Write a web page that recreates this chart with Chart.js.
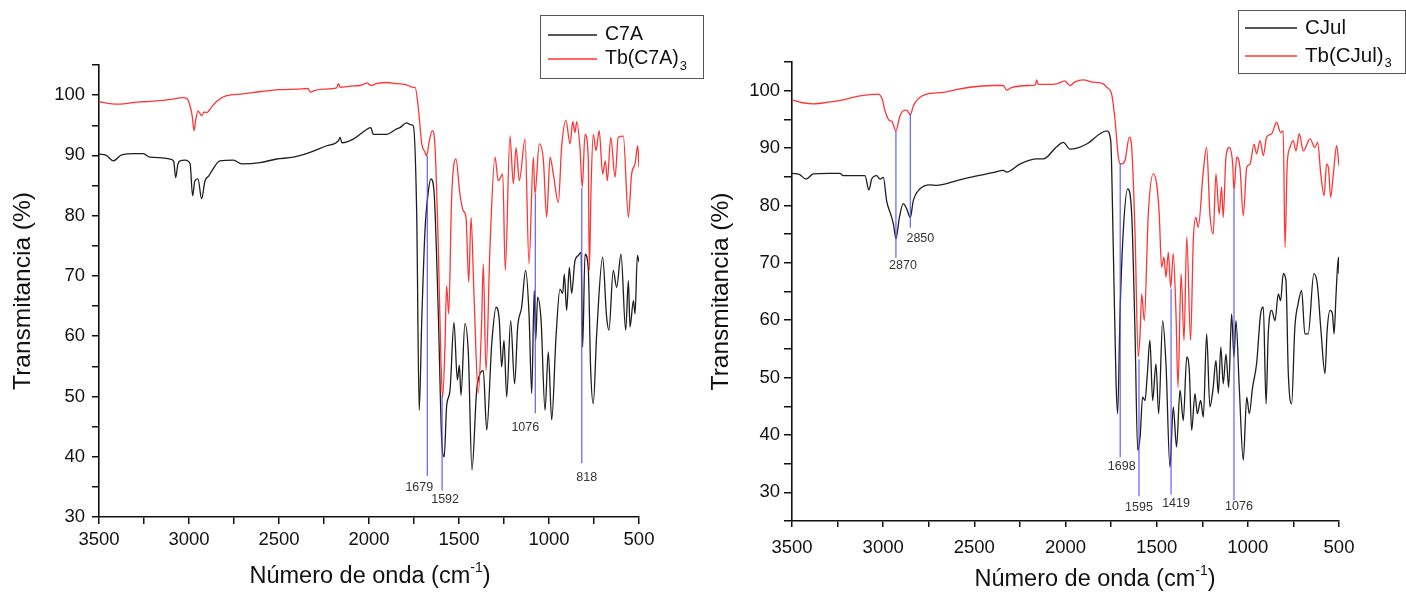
<!DOCTYPE html>
<html><head><meta charset="utf-8">
<script src="https://cdn.jsdelivr.net/npm/chart.js@4.4.1/dist/chart.umd.min.js"></script>
<style>
html,body{margin:0;padding:0;background:#fff;width:1406px;height:595px;overflow:hidden}
canvas{position:absolute;top:0}
</style></head><body>
<canvas id="c1" width="710" height="595" style="left:0"></canvas>
<canvas id="c2" width="706" height="595" style="left:700px"></canvas>
<script>
// ---------- DATA: left panel ----------
const wnTbC7A = [3500,3440,3383,3300,3250,3200,3100,3033,3010,2994,2982,2972,2962,2950,2940,2930,2915,2902,2875,2846,2791,2700,2600,2500,2400,2340,2325,2300,2250,2180,2170,2160,2100,2050,2010,1990,1960,1900,1850,1800,1755,1744,1726,1707,1690,1680,1665,1648,1633,1615,1600,1591,1578,1569,1557,1541,1517,1495,1476,1461,1446,1433,1417,1393,1374,1365,1350,1328,1300,1282,1257,1243,1217,1198,1183,1165,1133,1111,1087,1078,1054,1031,1013,994,976,948,930,906,883,868,856,846,828,815,800,782,776,766,754,739,721,702,687,676,657,633,615,587,559,541,522,507,500];
const tTbC7A  = [98.9,98.6,98.5,98.8,98.9,99.0,99.3,99.6,99.4,98.2,96.5,94.1,96.0,97.4,97.0,96.6,97.2,97.1,98.0,99.0,99.9,100.2,100.6,100.9,101.0,101.1,100.5,100.8,101.0,101.2,101.9,101.3,101.5,101.6,102.0,101.6,101.9,102.1,101.9,101.8,101.3,101.3,97.9,91.9,90.6,89.9,92.4,94.1,91.3,74.7,55.5,49.9,58.2,68.4,63.7,83.0,89.4,83.6,80.8,79.7,69.0,79.7,67.1,50.5,62.6,72.0,54.3,74.7,89.7,85.8,86.9,70.9,93.2,85.3,91.3,85.8,92.7,72.0,89.7,83.6,91.9,89.1,79.7,89.7,86.9,82.2,91.3,95.8,91.9,95.6,93.8,95.6,91.3,84.7,93.5,89.7,70.9,85.0,93.5,90.8,94.1,86.9,89.1,85.8,93.0,86.4,93.0,93.2,79.7,86.9,88.6,91.6,88.0];
const wnC7A = [3500,3460,3420,3374,3300,3254,3217,3150,3106,3085,3074,3062,3050,3022,2994,2980,2967,2950,2930,2911,2890,2874,2828,2754,2707,2606,2513,2420,2328,2235,2170,2161,2150,2087,2013,1990,1976,1940,1902,1846,1828,1791,1770,1754,1735,1721,1707,1689,1670,1656,1639,1615,1596,1582,1569,1550,1528,1509,1498,1489,1467,1448,1428,1402,1383,1365,1346,1318,1294,1276,1263,1250,1235,1213,1191,1174,1152,1130,1111,1096,1082,1074,1063,1044,1022,1004,985,961,939,924,915,902,887,874,856,837,822,813,800,782,769,754,735,702,680,667,643,624,600,574,559,550,531,522,509,500];
const tC7A  = [90.2,90.0,89.1,90.1,90.3,90.3,89.7,89.6,89.4,89.0,86.3,88.5,89.1,89.2,88.6,83.3,85.8,86.1,82.8,85.8,86.6,87.4,89.1,89.2,88.6,88.8,89.4,89.7,90.5,91.6,92.4,93.0,92.1,92.7,94.3,94.6,93.5,93.5,93.5,94.4,94.6,95.4,95.1,94.9,80.3,47.7,62.6,77.5,84.1,86.1,84.1,63.8,42.7,40.0,48.3,51.0,62.3,52.7,55.2,50.2,62.1,57.1,37.8,51.0,53.8,54.3,44.4,58.8,64.8,62.6,54.9,59.3,49.9,62.6,52.1,61.5,64.8,70.9,63.7,50.5,67.6,59.3,66.5,62.6,47.7,57.4,46.1,59.9,67.8,67.1,70.3,64.3,71.4,67.1,72.5,73.4,73.9,58.2,73.6,71.4,54.9,48.8,60.4,73.1,63.2,61.0,70.9,68.1,73.6,61.0,69.2,61.5,65.9,63.7,73.4,72.3];
const peaksLeftPos    = [1676,1594,1076,818];
const peaksLeftLabel  = ['1679','1592','1076','818'];
const peaksLeftTop    = [89.9,50.2,83.6,84.6];
const peaksLeftBottom = [36.8,34.4,47.2,38.9];

// ---------- DATA: right panel ----------
const wnTbCJul = [3500,3440,3383,3300,3219,3127,3027,3005,2990,2966,2953,2930,2908,2880,2868,2851,2835,2816,2761,2670,2600,2524,2400,2341,2323,2300,2200,2165,2158,2150,2100,2048,2003,1990,1975,1950,1903,1850,1793,1774,1747,1728,1710,1697,1674,1650,1637,1619,1601,1591,1582,1568,1546,1519,1500,1486,1473,1460,1449,1436,1423,1409,1394,1383,1366,1350,1335,1314,1299,1285,1272,1244,1226,1208,1190,1175,1157,1144,1135,1120,1102,1083,1076,1061,1043,1025,1006,988,966,952,933,915,897,869,842,820,806,796,784,769,751,736,718,696,659,632,617,600,582,568,557,546,531,513,500];
const tTbCJul  = [98.4,97.9,97.7,98.0,98.4,99.1,99.4,98.5,96.5,94.8,94.7,93.0,95.6,96.6,96.5,95.8,97.3,98.3,99.4,99.7,100.2,100.6,100.9,100.9,100.1,100.5,100.9,101.0,101.9,101.1,101.1,101.2,101.7,101.3,100.9,101.5,101.9,101.5,101.2,100.6,99.4,94.8,88.4,87.2,87.8,91.9,90.1,75.6,53.6,57.6,64.6,59.9,78.5,85.5,83.7,78.5,69.2,71.0,67.5,71.8,65.7,71.6,61.1,48.3,68.1,56.5,74.5,56.5,73.9,77.9,76.2,86.1,90.1,78.5,75.0,85.5,78.5,83.2,77.9,88.4,90.1,87.2,82.6,88.4,86.6,78.2,86.6,87.2,90.7,89.0,91.3,88.7,91.9,92.5,94.5,92.7,93.0,72.7,87.2,90.1,91.3,89.5,92.5,89.5,91.6,90.1,91.0,85.5,81.7,87.2,86.4,81.4,85.5,90.4,86.9];
const wnCJul = [3500,3460,3423,3383,3300,3237,3219,3100,3078,3063,3036,3017,2999,2981,2959,2944,2930,2911,2890,2871,2851,2835,2798,2743,2707,2600,2524,2400,2341,2323,2250,2158,2122,2050,2012,1975,1884,1811,1774,1752,1738,1723,1714,1701,1683,1659,1637,1619,1604,1591,1577,1564,1551,1537,1522,1504,1489,1467,1449,1427,1409,1391,1372,1354,1335,1321,1308,1290,1277,1259,1244,1226,1208,1190,1175,1162,1148,1135,1120,1105,1089,1076,1065,1047,1025,1006,992,974,952,930,915,900,888,869,851,833,820,806,791,778,760,742,724,705,687,669,638,619,599,577,565,549,536,527,516,503,500];
const tCJul  = [85.6,85.4,84.6,85.5,85.6,85.6,85.2,85.2,82.7,84.6,85.2,84.6,84.9,80.8,78.5,76.8,74.2,77.9,80.3,79.4,77.9,80.8,82.9,83.6,83.5,84.3,84.9,85.7,86.1,85.8,87.2,88.1,88.1,90.2,91.0,89.8,90.7,92.5,93.0,91.3,72.7,49.5,43.7,61.1,75.6,82.9,78.5,58.2,37.3,39.6,46.6,46.0,50.7,56.5,46.0,52.4,43.7,59.9,52.4,34.4,44.9,37.9,47.8,42.5,53.6,51.2,40.8,47.2,43.7,46.0,43.1,57.6,44.9,48.3,53.0,47.2,55.3,48.9,54.1,48.3,61.1,53.6,59.9,48.3,35.6,46.6,43.7,48.3,52.4,61.1,62.3,45.4,57.6,61.7,59.9,64.6,63.4,68.1,66.9,50.7,45.4,58.8,62.9,65.2,57.6,57.6,68.1,66.3,58.2,50.7,58.2,61.7,61.1,57.6,64.6,71.0,68.1];
const peaksRightPos    = [2930,2851,1700,1597,1421,1076];
const peaksRightLabel  = ['2870','2850','1698','1595','1419','1076'];
const peaksRightTop    = [93.0,96.0,87.3,53.2,65.5,82.6];
const peaksRightBottom = [70.9,76.1,36.1,29.3,29.6,28.6];

// ---------- helpers ----------
const F = '"Liberation Sans", Arial, Helvetica, sans-serif';
const BLACK = '#1e1e1e', RED = '#ff3535', BLUE = 'rgba(80,80,255,0.9)';
const pts = (wn, t) => wn.map((w, i) => ({x: w, y: t[i]}));

function peakSets(pos, top, bottom) {
  return pos.map((p, i) => ({
    data: [{x: p, y: top[i]}, {x: p, y: bottom[i]}],
    borderColor: BLUE, borderWidth: 1.2, pointRadius: 0, showLine: true
  }));
}

const overlay = {
  id: 'overlay',
  afterDraw(chart, args, o) {
    const ctx = chart.ctx, xs = chart.scales.x, ys = chart.scales.y, ca = chart.chartArea;
    ctx.save();
    // peak labels
    ctx.font = '12.5px ' + F;
    ctx.fillStyle = '#333'; ctx.textAlign = 'center'; ctx.textBaseline = 'middle';
    o.peakPos.forEach((p, i) => {
      const x = xs.getPixelForValue(p) + o.labelOff[i][0];
      const y = ys.getPixelForValue(o.peakBottom[i]) + o.labelOff[i][1];
      ctx.fillText(o.peakLabel[i], x, y);
    });
    // x-axis title with superscript
    ctx.fillStyle = '#111';
    const main = 'Número de onda (cm', sup = '-1', end = ')';
    ctx.font = '23.5px ' + F; const w1 = ctx.measureText(main).width, w3 = ctx.measureText(end).width;
    ctx.font = '14px ' + F; const w2 = ctx.measureText(sup).width;
    let x0 = (ca.left + ca.right) / 2 + o.titleDx - (w1 + w2 + w3) / 2;
    const ty = ca.bottom + o.titleDy;
    ctx.textAlign = 'left';
    ctx.font = '23.5px ' + F; ctx.fillText(main, x0, ty);
    ctx.font = '14px ' + F; ctx.fillText(sup, x0 + w1, ty - 9);
    ctx.font = '23.5px ' + F; ctx.fillText(end, x0 + w1 + w2, ty);
    // legend
    const L = o.legend;
    ctx.strokeStyle = '#555'; ctx.lineWidth = 1;
    ctx.strokeRect(L.x + 0.5, L.y + 0.5, L.w, L.h);
    L.items.forEach((it, i) => {
      const ly = L.y + L.rows[i];
      ctx.strokeStyle = it.color; ctx.lineWidth = 1.3;
      ctx.beginPath(); ctx.moveTo(L.lx0, ly); ctx.lineTo(L.lx1, ly); ctx.stroke();
      ctx.fillStyle = '#111'; ctx.textAlign = 'left'; ctx.textBaseline = 'middle';
      ctx.font = L.size + 'px ' + F; ctx.fillText(it.text, L.tx, ly);
      if (it.sub) {
        const w = ctx.measureText(it.text).width;
        ctx.font = Math.round(L.size * 0.65) + 'px ' + F;
        ctx.fillText(it.sub, L.tx + w + 1, ly + 7);
      }
    });
    ctx.restore();
  }
};

function makeChart(id, cfg) {
  return new Chart(document.getElementById(id), {
    type: 'scatter',
    data: {
      datasets: [
        ...peakSets(cfg.peakPos, cfg.peakTop, cfg.peakBottom),
        {label: cfg.redName, data: pts(cfg.wnRed, cfg.tRed), borderColor: RED, borderWidth: 1.3, pointRadius: 0, showLine: true, cubicInterpolationMode: 'monotone'},
        {label: cfg.blackName, data: pts(cfg.wnBlack, cfg.tBlack), borderColor: BLACK, borderWidth: 1.3, pointRadius: 0, showLine: true, cubicInterpolationMode: 'monotone'}
      ]
    },
    options: {
      responsive: false, animation: false, events: [],
      layout: {padding: cfg.padding},
      plugins: {legend: {display: false}, tooltip: {enabled: false},
        overlay: {peakPos: cfg.peakPos, peakLabel: cfg.peakLabel, peakBottom: cfg.peakBottom, labelOff: cfg.labelOff,
                  titleDx: cfg.titleDx, titleDy: cfg.titleDy, legend: cfg.legend}},
      scales: {
        x: {type: 'linear', reverse: true, min: 500, max: 3500,
            afterFit: s => { s.height = cfg.xh; },
            ticks: {stepSize: 250, autoSkip: false, maxRotation: 0, padding: cfg.xpad,
                    callback: v => (v % 500 === 0 ? String(v) : ''), font: {size: 18.5, family: F}, color: '#111'},
            grid: {drawOnChartArea: false, drawTicks: true, tickLength: cfg.xtl, color: '#111', lineWidth: 1.5},
            border: {display: true, color: '#111', width: 1.6}},
        y: {type: 'linear', min: cfg.ymin, max: 105,
            afterFit: s => { s.width = cfg.yw; },
            ticks: {stepSize: 5, autoSkip: false, padding: cfg.ypad,
                    callback: v => (v % 10 === 0 ? String(v) : ''), font: {size: 18.5, family: F}, color: '#111'},
            grid: {drawOnChartArea: false, drawTicks: true, tickLength: cfg.ytl, color: '#111', lineWidth: 1.5},
            border: {display: true, color: '#111', width: 1.6},
            title: {display: true, text: 'Transmitancia (%)', font: {size: 24.5, family: F}, color: '#111', padding: {top: cfg.ytitlePad, bottom: 0}}}
      }
    },
    plugins: [overlay]
  });
}

makeChart('c1', {
  wnRed: wnTbC7A, tRed: tTbC7A, wnBlack: wnC7A, tBlack: tC7A, redName: 'Tb(C7A)3', blackName: 'C7A',
  peakPos: peaksLeftPos, peakLabel: peaksLeftLabel, peakTop: peaksLeftTop, peakBottom: peaksLeftBottom,
  labelOff: [[-8, 12], [3, 9], [-10, 14], [5, 14]],
  padding: {top: 65, right: 71, bottom: 0, left: 0}, yw: 99, xh: 78, ymin: 30,
  xpad: 5, xtl: 7, ypad: 7, ytl: 7, ytitlePad: 9, titleDx: 1, titleDy: 60,
  legend: {x: 540, y: 15, w: 163, h: 63, rows: [20, 44], lx0: 548, lx1: 597, tx: 605, size: 19.5,
           items: [{text: 'C7A', color: BLACK}, {text: 'Tb(C7A)', sub: '3', color: RED}]}
});

makeChart('c2', {
  wnRed: wnTbCJul, tRed: tTbCJul, wnBlack: wnCJul, tBlack: tCJul, redName: 'Tb(CJul)3', blackName: 'CJul',
  peakPos: peaksRightPos, peakLabel: peaksRightLabel, peakTop: peaksRightTop, peakBottom: peaksRightBottom,
  labelOff: [[7, 8], [10, 11], [1.5, 9], [0, 11], [5, 9], [5, 6]],
  padding: {top: 62, right: 67, bottom: 0, left: 0}, yw: 92, xh: 74, ymin: 25,
  xpad: 10, xtl: 6, ypad: 4, ytl: 8, ytitlePad: 7, titleDx: 29.5, titleDy: 59,
  legend: {x: 538, y: 10, w: 167, h: 63, rows: [18, 46], lx0: 545, lx1: 597, tx: 605, size: 20.5,
           items: [{text: 'CJul', color: BLACK}, {text: 'Tb(CJul)', sub: '3', color: RED}]}
});
</script>
</body></html>
